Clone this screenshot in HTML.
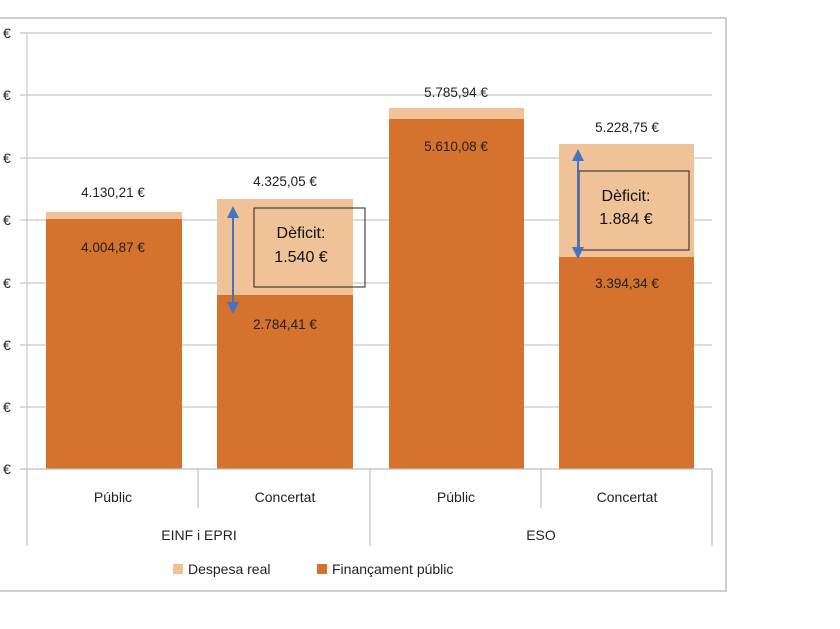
<!DOCTYPE html>
<html><head><meta charset="utf-8"><style>
body{margin:0;background:#fff;}
svg text{font-family:"Liberation Sans",sans-serif;}
</style></head><body>
<svg width="840" height="624" xmlns="http://www.w3.org/2000/svg">
<rect x="0" y="0" width="840" height="624" fill="#fff"/>
<!-- frame -->
<polyline points="0,18 726,18 726,591 0,591" fill="none" stroke="#bfbfbf" stroke-width="1.5"/>
<!-- gridlines -->
<g stroke="#c8c8c8" stroke-width="1.2">
<line x1="20" y1="33" x2="712" y2="33"/>
<line x1="20" y1="95" x2="712" y2="95"/>
<line x1="20" y1="158" x2="712" y2="158"/>
<line x1="20" y1="220" x2="712" y2="220"/>
<line x1="20" y1="283" x2="712" y2="283"/>
<line x1="20" y1="345" x2="712" y2="345"/>
<line x1="20" y1="407" x2="712" y2="407"/>
</g>
<line x1="27" y1="33" x2="27" y2="469" stroke="#c8c8c8" stroke-width="1.2"/>
<g font-size="14" fill="#222">
<text x="3" y="38">€</text><text x="3" y="100">€</text><text x="3" y="163">€</text><text x="3" y="225">€</text>
<text x="3" y="288">€</text><text x="3" y="350">€</text><text x="3" y="412">€</text><text x="3" y="474">€</text>
</g>
<!-- bars -->
<g>
<rect x="46" y="212" width="136" height="257" fill="#F0C298"/>
<rect x="46" y="219" width="136" height="250" fill="#D4722E"/>
<rect x="217" y="199" width="136" height="270" fill="#F0C298"/>
<rect x="217" y="295" width="136" height="174" fill="#D4722E"/>
<rect x="389" y="108" width="135" height="361" fill="#F0C298"/>
<rect x="389" y="119" width="135" height="350" fill="#D4722E"/>
<rect x="559" y="144" width="135" height="325" fill="#F0C298"/>
<rect x="559" y="257" width="135" height="212" fill="#D4722E"/>
</g>
<!-- axis -->
<g stroke="#bdbdbd" stroke-width="1.2">
<line x1="20" y1="469" x2="712" y2="469"/>
<line x1="27" y1="469" x2="27" y2="546"/>
<line x1="198" y1="469" x2="198" y2="508"/>
<line x1="370" y1="469" x2="370" y2="546"/>
<line x1="541" y1="469" x2="541" y2="508"/>
<line x1="712" y1="469" x2="712" y2="546"/>
</g>
<g font-size="14" fill="#222" text-anchor="middle">
<text x="113" y="502">Públic</text>
<text x="285" y="502">Concertat</text>
<text x="456" y="502">Públic</text>
<text x="627" y="502">Concertat</text>
<text x="199" y="540">EINF i EPRI</text>
<text x="541" y="540">ESO</text>
</g>
<!-- value labels -->
<g font-size="13.5" fill="#222" text-anchor="middle">
<text x="113" y="197">4.130,21 €</text>
<text x="113" y="252">4.004,87 €</text>
<text x="285" y="186">4.325,05 €</text>
<text x="285" y="329">2.784,41 €</text>
<text x="456" y="97">5.785,94 €</text>
<text x="456" y="151">5.610,08 €</text>
<text x="627" y="132">5.228,75 €</text>
<text x="627" y="288">3.394,34 €</text>
</g>
<!-- deficit boxes -->
<rect x="254" y="208" width="111" height="79" fill="none" stroke="#222" stroke-width="1"/>
<text x="301" y="238" font-size="16" fill="#111" text-anchor="middle">Dèficit:</text>
<text x="301" y="262" font-size="16" fill="#111" text-anchor="middle">1.540 €</text>
<rect x="579" y="171" width="110" height="79" fill="none" stroke="#222" stroke-width="1"/>
<text x="626" y="201" font-size="16" fill="#111" text-anchor="middle">Dèficit:</text>
<text x="626" y="224" font-size="16" fill="#111" text-anchor="middle">1.884 €</text>
<!-- arrows -->
<g stroke="#4472C4" stroke-width="2" fill="#4472C4">
<line x1="233" y1="214" x2="233" y2="306"/>
<polygon points="227,218 239,218 233,206" stroke="none"/>
<polygon points="227,302 239,302 233,314" stroke="none"/>
<line x1="578" y1="157" x2="578" y2="251"/>
<polygon points="572,161 584,161 578,149" stroke="none"/>
<polygon points="572,247 584,247 578,259" stroke="none"/>
</g>
<!-- legend -->
<rect x="173" y="564" width="10" height="10" fill="#F0C298"/>
<text x="188" y="574" font-size="14" fill="#222">Despesa real</text>
<rect x="317" y="564" width="10" height="10" fill="#D4722E"/>
<text x="332" y="574" font-size="14" fill="#222">Finançament públic</text>
</svg>
</body></html>
